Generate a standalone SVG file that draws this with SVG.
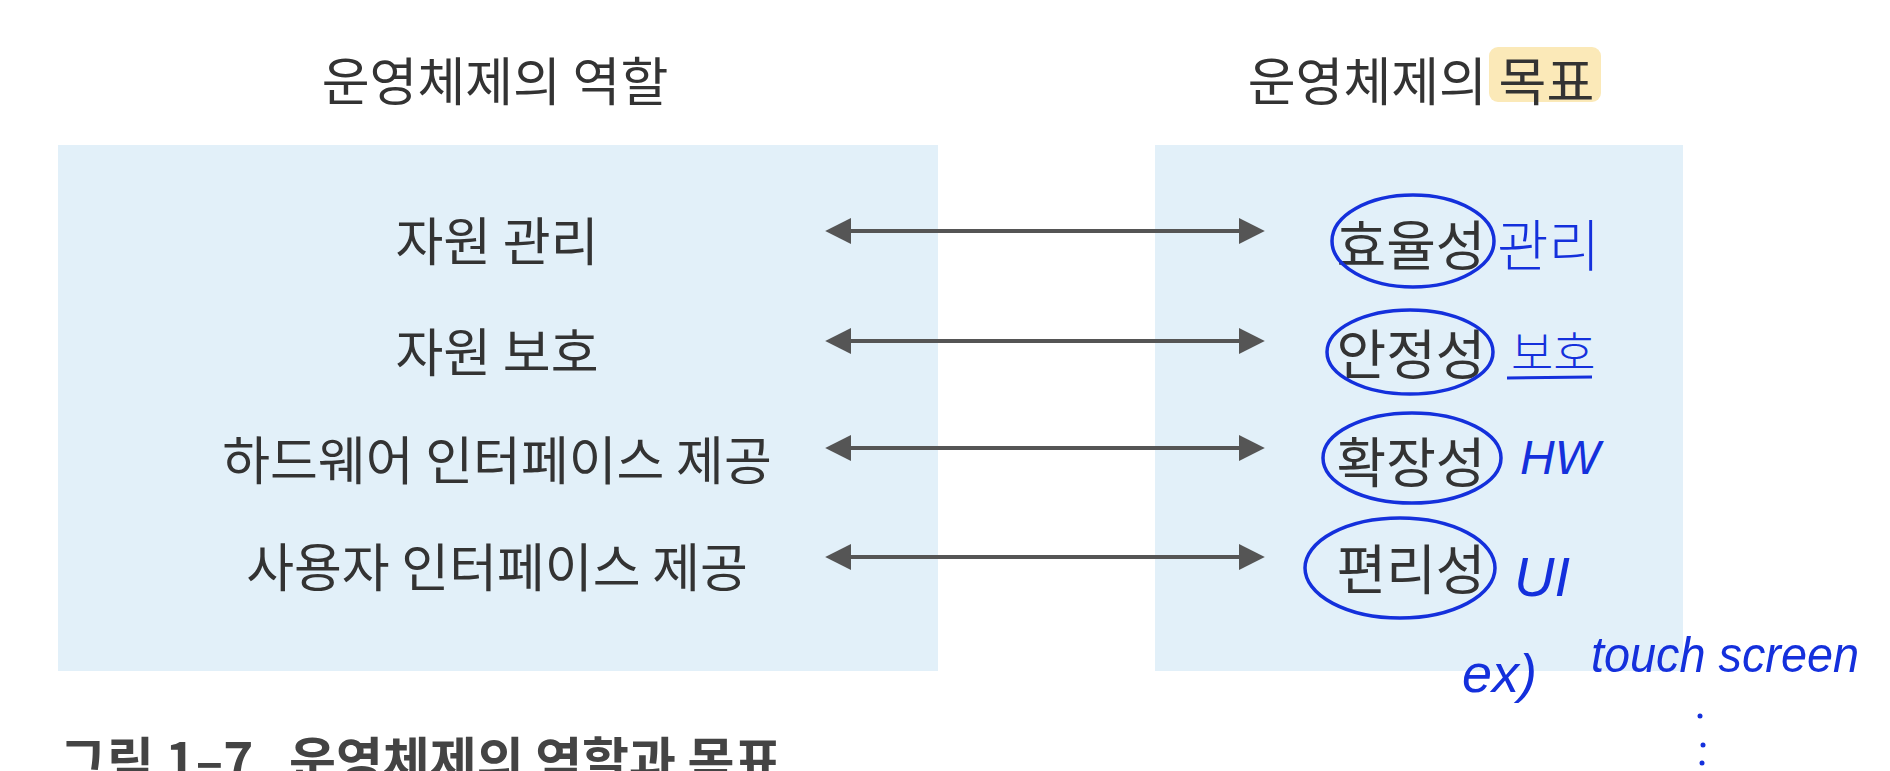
<svg xmlns="http://www.w3.org/2000/svg" width="1890" height="771" viewBox="0 0 1890 771">
<defs>
<style>
.title{font-family:"Noto Sans CJK KR","Noto Sans",sans-serif;font-size:52px;fill:#333;text-anchor:middle;dominant-baseline:central}
.item{font-family:"Noto Sans CJK KR","Noto Sans",sans-serif;font-size:52px;fill:#333;text-anchor:middle;dominant-baseline:central}
.goal{font-family:"Noto Sans CJK KR","Noto Sans",sans-serif;font-size:54px;fill:#333;text-anchor:middle;dominant-baseline:central}
.panel{fill:#e2f0f9}
.arrow{stroke:#555;stroke-width:4;fill:none;marker-start:url(#ah);marker-end:url(#ah)}
.ring{fill:none;stroke:#1430dc;stroke-width:3.5}
.hand{font-family:"Noto Sans CJK KR","Noto Sans",sans-serif;fill:#1430dc;font-weight:300}
.hand-lat{font-family:"Liberation Sans",sans-serif;fill:#1430dc;font-style:italic}
.caption{font-family:"Noto Sans CJK KR","Noto Sans",sans-serif;font-size:51px;font-weight:bold;fill:#444}
</style>
<marker id="ah" viewBox="0 0 10 10" refX="2" refY="5" markerWidth="6.5" markerHeight="8" markerUnits="strokeWidth" orient="auto-start-reverse">
<path d="M0,0 L10,5 L0,10 Z" fill="#555"/>
</marker>
</defs>
<rect width="1890" height="771" fill="#ffffff"/>

<g id="left-panel">
<rect class="panel" x="58" y="145" width="880" height="526"/>
<text class="title" x="495" y="78">운영체제의 역할</text>
</g>
<g id="right-panel">
<rect class="panel" x="1155" y="145" width="528" height="526"/>
<rect x="1489" y="47" width="112" height="55" rx="9" fill="#fbe9b8"/>
<text class="title" x="1421" y="78">운영체제의 목표</text>
</g>

<g id="role-1"><text class="item" x="497" y="238">자원 관리</text></g>
<g id="role-2"><text class="item" x="497" y="349">자원 보호</text></g>
<g id="role-3"><text class="item" x="497" y="457">하드웨어 인터페이스 제공</text></g>
<g id="role-4"><text class="item" x="497" y="564">사용자 인터페이스 제공</text></g>

<g id="goal-1"><text class="goal" x="1411" y="242">효율성</text></g>
<g id="goal-2"><text class="goal" x="1411" y="351">안정성</text></g>
<g id="goal-3"><text class="goal" x="1411" y="459">확장성</text></g>
<g id="goal-4"><text class="goal" x="1411" y="566">편리성</text></g>

<g id="connectors">
<line class="arrow" x1="846" y1="231" x2="1244" y2="231"/>
<line class="arrow" x1="846" y1="341" x2="1244" y2="341"/>
<line class="arrow" x1="846" y1="448" x2="1244" y2="448"/>
<line class="arrow" x1="846" y1="557" x2="1244" y2="557"/>
</g>

<g id="annotations">
<ellipse class="ring" cx="1413" cy="241" rx="81" ry="46"/>
<ellipse class="ring" cx="1410" cy="352" rx="83" ry="42"/>
<ellipse class="ring" cx="1412" cy="458" rx="89" ry="45"/>
<ellipse class="ring" cx="1400" cy="568" rx="95" ry="50"/>
<text class="hand" x="1497" y="266" font-size="56">관리</text>
<text class="hand" x="1511" y="369" font-size="46">보호</text>
<line x1="1507" y1="378" x2="1592" y2="377" stroke="#1430dc" stroke-width="3"/>
<text class="hand-lat" x="1520" y="474" font-size="48">HW</text>
<text class="hand-lat" x="1514" y="596" font-size="56">UI</text>
<text class="hand-lat" x="1462" y="692" font-size="54">ex)</text>
<text class="hand-lat" x="1591" y="672" font-size="50" textLength="268" lengthAdjust="spacingAndGlyphs">touch screen</text>
<circle cx="1700" cy="716" r="2.5" fill="#1430dc"/>
<circle cx="1703" cy="745" r="2.5" fill="#1430dc"/>
<circle cx="1702" cy="763" r="2.5" fill="#1430dc"/>
</g>

<g id="caption">
<text class="caption" x="60" y="780">그림 1–7</text>
<text class="caption" x="289" y="780">운영체제의 역할과 목표</text>
</g>
</svg>
